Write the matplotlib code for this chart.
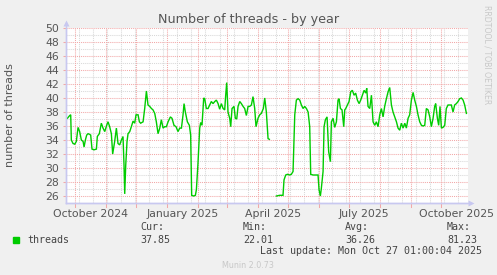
import numpy as np
import pandas as pd
import matplotlib
matplotlib.use("Agg")
import matplotlib.pyplot as plt
import matplotlib.dates as mdates

# ---- data ----
start = pd.Timestamp("2024-09-22 01:00")
end = pd.Timestamp("2025-10-27 01:00")

day_offsets = [
    1.4, 3.7, 4.7, 5.3, 7.0, 8.7, 10.3, 12.0, 13.6, 15.3, 17.0, 18.0, 19.3, 20.6, 22.0, 23.6, 24.6,
    25.9, 27.9, 30.3, 31.2, 33.2, 35.2, 36.9, 38.6, 40.5, 41.9, 43.5, 45.2, 46.5, 48.5, 50.2, 51.8,
    53.5, 55.2, 56.8, 57.8, 58.5, 59.5, 60.8, 61.8, 63.5, 65.1, 66.8, 68.4, 69.8, 71.8, 73.1, 74.4,
    76.8, 78.4, 80.1, 81.7, 83.4, 85.1, 86.7, 88.4, 90.0, 91.7, 93.4, 95.0, 96.7, 98.3, 100.0, 101.7,
    104.0, 105.6, 107.6, 109.6, 111.6, 113.3, 115.0, 116.6, 117.6, 118.9, 120.9, 122.9, 124.2, 125.2,
    127.2, 128.9, 129.9, 131.5, 133.2, 134.2, 135.5, 137.2, 138.2, 139.8, 141.5, 143.2, 144.8, 146.5,
    148.2, 149.8, 151.5, 153.1, 154.8, 156.5, 158.1, 159.1, 160.1, 161.4, 163.1, 164.1, 165.4, 167.4,
    168.7, 170.1, 171.4, 173.1, 174.7, 176.4, 178.0, 179.7, 181.4, 183.0, 184.7, 186.3, 188.0, 189.3,
    191.3, 193.0, 194.6, 196.6, 198.0, 199.6, 201.3, 202.6, 206.0,
    209.6, 212.9, 216.2, 217.2, 218.9, 220.6, 222.9, 224.5, 226.2, 227.9, 229.5, 231.2, 232.9,
    234.5, 236.2, 237.8, 239.5, 241.2, 242.8, 243.8, 246.1, 249.4, 251.1, 252.1, 253.4, 254.4, 256.1,
    257.1, 258.4, 260.1, 261.7, 263.4, 264.4, 266.1, 267.7, 269.4, 271.0, 272.0, 273.4, 275.0, 276.7,
    277.7, 278.7, 280.3, 282.0, 283.7, 285.3, 287.0, 288.6, 290.3, 292.0, 293.6, 295.3, 297.0, 298.6,
    299.6, 300.9, 302.6, 304.3, 305.9, 307.6, 309.2, 310.9, 312.6, 314.2, 315.9, 317.5, 319.2, 320.9,
    322.5, 324.2, 325.8, 327.5, 329.2, 330.8, 332.5, 334.1, 335.8, 337.5, 339.1, 340.8, 342.4, 344.1,
    345.8, 347.4, 349.1, 350.7, 352.4, 354.1, 355.7, 357.4, 359.0, 360.7, 362.4, 364.0, 365.7, 367.3,
    368.3, 370.0, 371.3, 372.6, 374.0, 375.6, 377.3, 378.9, 380.6, 382.3, 383.9, 385.6, 387.2, 388.9,
    390.6, 392.2, 393.9, 395.6, 397.2, 398.9,
]

threads = [
    37.1, 37.5, 37.6, 34.0, 33.5, 33.4, 33.8, 35.8, 35.2, 34.0, 33.8, 33.0, 34.0, 34.7, 34.9, 34.8, 34.7,
    32.7, 32.6, 32.7, 34.5, 34.9, 36.4, 35.7, 35.2, 36.1, 36.6, 35.9, 34.9, 32.0, 33.8, 35.7, 33.5,
    33.3, 34.0, 34.5, 30.4, 26.3, 30.4, 33.8, 34.9, 35.2, 35.9, 36.7, 36.4, 37.6, 37.6, 36.6, 36.4,
    36.6, 38.5, 41.0, 39.0, 38.8, 38.5, 38.3, 37.8, 36.6, 34.9, 35.7, 36.9, 35.7, 35.9, 35.9, 36.6,
    37.3, 37.1, 36.1, 35.9, 35.2, 35.7, 35.7, 37.6, 39.2, 38.0, 36.6, 36.1, 34.7, 26.1,
    26.0, 26.1, 26.9, 30.7, 35.7, 36.5, 36.1, 40.0, 39.9, 38.5, 38.5, 39.0, 39.5, 39.2,
    39.5, 39.7, 39.2, 38.4, 39.2, 38.5, 38.3, 40.4, 42.2, 38.0, 37.1, 35.9, 38.5, 38.8,
    37.1, 37.0, 38.8, 39.5, 39.2, 38.8, 38.5, 37.5, 38.8, 38.8, 39.0, 40.2, 38.5, 35.9,
    37.1, 37.6, 37.8, 38.5, 40.0, 38.0, 34.2, 34.1, np.nan,
    26.0, 26.1, 26.1, 28.3, 29.0, 29.1, 29.0, 29.1, 29.5, 37.6, 39.7, 39.9, 39.7,
    39.0, 38.5, 38.8, 38.5, 38.0, 35.9, 29.1, 29.0, 29.0, 29.0, 26.9, 26.0, 27.1, 29.5,
    35.9, 36.9, 37.3, 32.3, 30.9, 36.6, 37.1, 35.8, 36.6, 39.7, 39.9, 38.5, 38.3, 35.9,
    38.3, 38.5, 39.0, 39.5, 40.9, 41.1, 40.4, 40.7, 39.7, 39.2, 39.7, 40.4, 41.1, 40.7,
    41.4, 38.8, 38.5, 40.4, 36.6, 36.1, 36.6, 35.9, 37.6, 38.5, 37.3, 38.8, 39.9, 40.9,
    41.5, 39.0, 38.0, 37.3, 36.6, 35.7, 35.4, 36.4, 35.7, 36.4, 35.7, 37.1, 37.6, 39.7,
    40.8, 39.7, 38.8, 37.6, 36.6, 36.1, 36.0, 36.1, 38.5, 38.3, 37.3, 35.9, 37.1, 38.8,
    39.2, 37.1, 36.1, 38.8, 35.7, 35.8, 36.1, 38.5, 39.0, 39.0, 39.0, 38.0, 39.0, 39.2,
    39.5, 39.9, 40.0, 39.7, 39.0, 37.8,
]

y_ticks = list(range(26, 51, 2))
x_label_months = ["2024-10-01", "2025-01-01", "2025-04-01", "2025-07-01", "2025-10-01"]
x_label_texts = ["October 2024", "January 2025", "April 2025", "July 2025", "October 2025"]
minor_anchor = pd.Timestamp("2025-01-11")

stats_labels = ["Cur:", "Min:", "Avg:", "Max:"]
stats_values = ["37.85", "22.01", "36.26", "81.23"]

# ---- figure ----
W, H = 497, 275
fig = plt.figure(figsize=(W / 100, H / 100), dpi=100, facecolor="#F0F0F0")
ax = fig.add_axes([66 / W, (H - 203) / H, 401.5 / W, 175 / H])
ax.set_facecolor("white")

def fx(x):
    return x / W

def fy(y):
    return 1 - y / H

dates = start + pd.to_timedelta(day_offsets, unit="D")
ax.plot(dates, threads, color="#00CC00", lw=1.0, zorder=5, solid_joinstyle="miter")

ax.set_xlim(start, end)
ax.set_ylim(25, 50)

minor_c = "#D8D8D8"
major_c = "#F2A8A8"
dot = (0, (1, 1))

# y grid
for v in np.arange(25, 51, 1):
    if v % 2 == 1:
        ax.axhline(v, color=minor_c, lw=0.75, ls=dot, zorder=1)
for v in y_ticks:
    ax.axhline(v, color=major_c, lw=0.75, ls=dot, zorder=2)

# x grid
minor_dates = pd.date_range(minor_anchor - pd.Timedelta(days=14 * 10), end, freq="14D")
for d in minor_dates:
    if start < d < end:
        ax.axvline(d, color=minor_c, lw=0.75, ls=dot, zorder=1)
month_starts = pd.date_range("2024-10-01", "2025-10-01", freq="MS")
for d in month_starts:
    ax.axvline(d, color=major_c, lw=0.75, ls=dot, zorder=2)
    ax.plot([d, d], [0, -0.02], transform=ax.get_xaxis_transform(), color=major_c,
            lw=0.75, clip_on=False, zorder=2)

label_pos = [pd.Timestamp(m) + pd.Timedelta(days=15) for m in x_label_months]
ax.set_xticks(label_pos)
ax.set_xticklabels(x_label_texts)
ax.set_yticks(y_ticks)
ax.set_yticklabels([str(v) for v in y_ticks])
ax.tick_params(axis="x", length=0, pad=4, labelsize=7.8, labelcolor="#555555")
ax.tick_params(axis="y", length=2, width=0.75, color=major_c, pad=3, labelsize=7.8,
               labelcolor="#555555")

for s in ["top", "right"]:
    ax.spines[s].set_visible(False)
for s in ["left", "bottom"]:
    ax.spines[s].set_color("#C8C8F0")
    ax.spines[s].set_linewidth(1.0)

# axis arrows
fig.add_artist(plt.Line2D([fx(66), fx(66)], [fy(203), fy(23)], color="#C8C8F0", lw=1.0))
fig.add_artist(plt.Line2D([fx(66), fx(471)], [fy(203), fy(203)], color="#C8C8F0", lw=1.0))
fig.add_artist(plt.Line2D([fx(66)], [fy(23)], marker="^", ms=4, color="#C8C8F0", mec="none"))
fig.add_artist(plt.Line2D([fx(471)], [fy(203)], marker=">", ms=4, color="#C8C8F0", mec="none"))

# titles
fig.text(fx(249), fy(19), "Number of threads - by year", ha="center", va="center",
         fontsize=9.2, color="#555555")
fig.text(fx(10), fy(115), "number of threads", ha="center", va="center", rotation=90,
         fontsize=8, color="#555555")
fig.text(fx(487), fy(5), "RRDTOOL / TOBI OETIKER", ha="center", va="top", rotation=270,
         fontsize=5.6, color="#C8C8C8")

# legend
mono = "DejaVu Sans Mono"
fig.add_artist(plt.Rectangle((fx(13), fy(243)), 6 / W, 6 / H, color="#00CC00"))
fig.text(fx(27), fy(240), "threads", ha="left", va="center", fontsize=7.2, family=mono,
         color="#444444")
stat_x = [140, 243, 345, 447]
for xx, lab, val in zip(stat_x, stats_labels, stats_values):
    fig.text(fx(xx), fy(227), lab, ha="left", va="center", fontsize=7.2, family=mono,
             color="#444444")
    fig.text(fx(xx), fy(240), val, ha="left", va="center", fontsize=7.2, family=mono,
             color="#444444")
fig.text(fx(482), fy(251), "Last update: Mon Oct 27 01:00:04 2025", ha="right", va="center",
         fontsize=7.2, family=mono, color="#444444")
fig.text(fx(248), fy(265), "Munin 2.0.73", ha="center", va="center", fontsize=5.8,
         color="#C8C8C8")

fig.savefig("out.png", dpi=100, facecolor=fig.get_facecolor())
